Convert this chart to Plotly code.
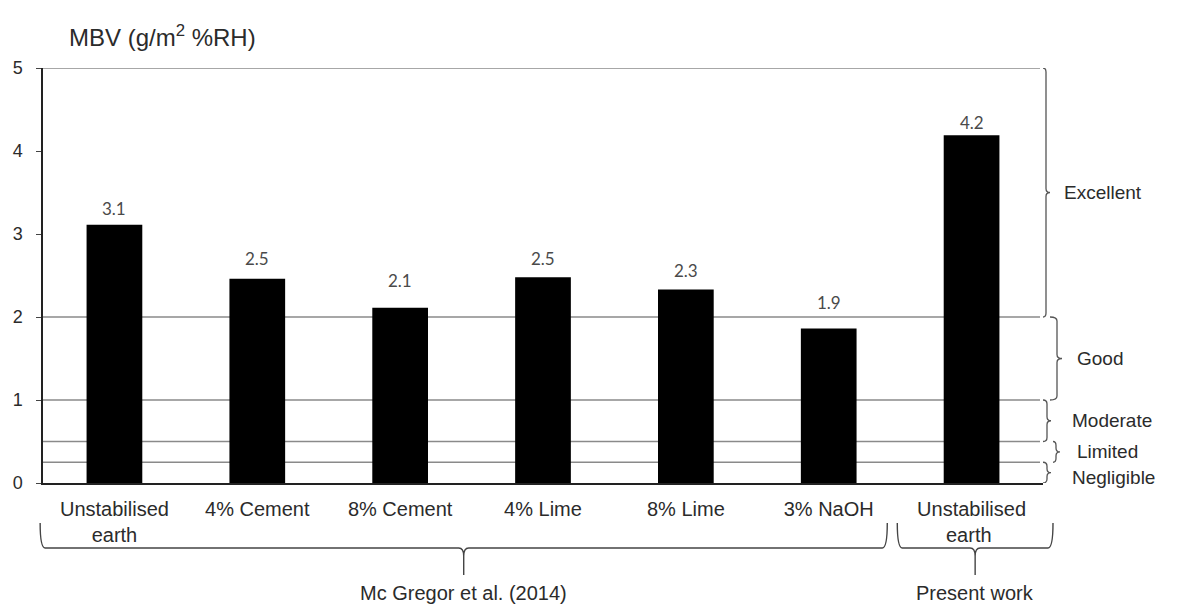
import plotly.graph_objects as go

# ---------------- data ----------------
categories = ["Unstabilised<br>earth", "4% Cement", "8% Cement", "4% Lime",
              "8% Lime", "3% NaOH", "Unstabilised<br>earth "]
mbv_values = [3.11, 2.46, 2.11, 2.48, 2.33, 1.86, 4.19]
value_labels = ["3.1", "2.5", "2.1", "2.5", "2.3", "1.9", "4.2"]

rating_names = ["Excellent", "Good", "Moderate", "Limited", "Negligible"]
rating_low = [2.0, 1.0, 0.5, 0.25, 0.0]
rating_high = [5.0, 2.0, 1.0, 0.5, 0.25]

group_names = ["Mc Gregor et al. (2014)", "Present work"]
group_first = [0, 6]
group_last = [5, 6]

# ---------------- layout constants (page pixels) ----------------
PAGE_OFF = 8                      # body margin of the html page
W, H = 1179 - 2 * PAGE_OFF, 613 - 2 * PAGE_OFF
PLOT_LEFT, PLOT_BOTTOM = 43, 483  # page pixel position of the plot origin
PW, PH = 1000, 415
ML = PLOT_LEFT - PAGE_OFF
MT = PLOT_BOTTOM - PH - PAGE_OFF
MR = W - ML - PW
MB = H - MT - PH
XMIN, XMAX = -0.5, len(categories) - 0.5
PX_PER_CAT = PW / (XMAX - XMIN)
PX_PER_Y = PH / 5.0


def paper_x(px):
    return (px - PLOT_LEFT) / PW


def paper_y(py):
    return (PLOT_BOTTOM - py) / PH


def cat_to_paper(idx):
    return (idx - XMIN) / (XMAX - XMIN)


LINE_GRAY = "#8a8a8a"
TEXT = "#2b2b2b"
FONT = "Arial, Liberation Sans, sans-serif"

fig = go.Figure()
fig.add_trace(go.Bar(
    x=list(range(len(categories))), y=mbv_values,
    marker=dict(color="black", line=dict(color="black", width=0)),
    width=0.39, hoverinfo="skip", showlegend=False,
))

shapes = []
annotations = []

# rating threshold lines
for v in sorted(set(rating_low + rating_high)):
    if v == 0:
        continue
    shapes.append(dict(type="line", xref="paper", yref="y", x0=0, x1=0.997,
                       y0=v, y1=v, line=dict(color=LINE_GRAY, width=1.3), layer="below"))

# value labels (offset above bar top, in pixels)
label_gap = [16, 20, 27, 19, 19, 26, 13]
for i, (v, t) in enumerate(zip(mbv_values, value_labels)):
    annotations.append(dict(x=i, y=v, xref="x", yref="y", text=t, showarrow=False,
                            yanchor="middle", yshift=label_gap[i],
                            font=dict(family="Lato, Carlito, sans-serif", size=17, color="#4a4a4a")))

# right-side braces (x in page pixels -> paper, y in data units)
brace_x = [(1043, 1046, 1050), (1050, 1057, 1062), (1043, 1047, 1051),
           (1053, 1056, 1060), (1043, 1047, 1051)]
label_x = [1062, 1075, 1070, 1075, 1070]
label_yshift = [0, 0, 0, 0, -5]
for k, name in enumerate(rating_names):
    lo, hi = rating_low[k], rating_high[k]
    x0, x1, x2 = (paper_x(p) for p in brace_x[k])
    r = 4 / PX_PER_Y
    ym = (lo + hi) / 2
    path = (f"M {x0},{hi} Q {x1},{hi} {x1},{hi - r} L {x1},{ym + r} "
            f"Q {x1},{ym} {x2},{ym} Q {x1},{ym} {x1},{ym - r} "
            f"L {x1},{lo + r} Q {x1},{lo} {x0},{lo}")
    shapes.append(dict(type="path", xref="paper", yref="y", path=path,
                       line=dict(color="#555555", width=1.3)))
    annotations.append(dict(x=paper_x(label_x[k]), y=ym, xref="paper", yref="y",
                            text=name, showarrow=False, xanchor="left", yanchor="middle",
                            yshift=label_yshift[k],
                            font=dict(family=FONT, size=19, color=TEXT)))

# bottom braces (x from category units to paper, y in paper)
group_pad_left = [0.52, 0.52]
group_pad_right = [0.41, 0.57]
y_end, y_line, y_tip = paper_y(523), paper_y(548), paper_y(575)
for g, name in enumerate(group_names):
    xa = cat_to_paper(group_first[g] - group_pad_left[g])
    xb = cat_to_paper(group_last[g] + group_pad_right[g])
    xm = (xa + xb) / 2
    r = 5 / PW
    s = 8 / PH
    path = (f"M {xa},{y_end} Q {xa},{y_line} {xa + r},{y_line} L {xm - r},{y_line} "
            f"Q {xm},{y_line} {xm},{y_line - s} L {xm},{y_tip} "
            f"M {xm},{y_line - s} Q {xm},{y_line} {xm + r},{y_line} "
            f"L {xb - r},{y_line} Q {xb},{y_line} {xb},{y_end}")
    shapes.append(dict(type="path", xref="paper", yref="paper", path=path,
                       line=dict(color="#444444", width=1.4)))
    annotations.append(dict(x=xm, y=paper_y(593), xref="paper", yref="paper", text=name,
                            showarrow=False, xanchor="center", yanchor="middle",
                            font=dict(family=FONT, size=20, color=TEXT)))

# axis title at top-left
annotations.append(dict(x=paper_x(67), y=paper_y(36), xref="paper", yref="paper",
                        text="MBV (g/m<sup>2</sup> %RH)", showarrow=False,
                        xanchor="left", yanchor="middle",
                        font=dict(family=FONT, size=24, color=TEXT)))

fig.update_layout(
    width=W, height=H,
    margin=dict(l=ML, r=MR, t=MT, b=MB, pad=0),
    paper_bgcolor="white", plot_bgcolor="white",
    bargap=0.6, showlegend=False,
    shapes=shapes, annotations=annotations,
    font=dict(family=FONT, color=TEXT),
    xaxis=dict(range=[XMIN, XMAX], tickmode="array",
               tickvals=list(range(len(categories))), ticktext=categories,
               showline=True, linecolor="#222222", linewidth=1.5,
               ticks="", showgrid=False, zeroline=False, automargin=False,
               ticklabelstandoff=7,
               tickfont=dict(family=FONT, size=20, color=TEXT), fixedrange=True),
    yaxis=dict(range=[0, 5], tickmode="array", tickvals=[0, 1, 2, 3, 4, 5],
               showline=True, linecolor="#222222", linewidth=1.5,
               ticks="outside", ticklen=5, tickcolor="#444444",
               showgrid=False, zeroline=False, automargin=False,
               ticklabelstandoff=10,
               tickfont=dict(family=FONT, size=18, color=TEXT), fixedrange=True),
)

fig.write_html("out.html")
